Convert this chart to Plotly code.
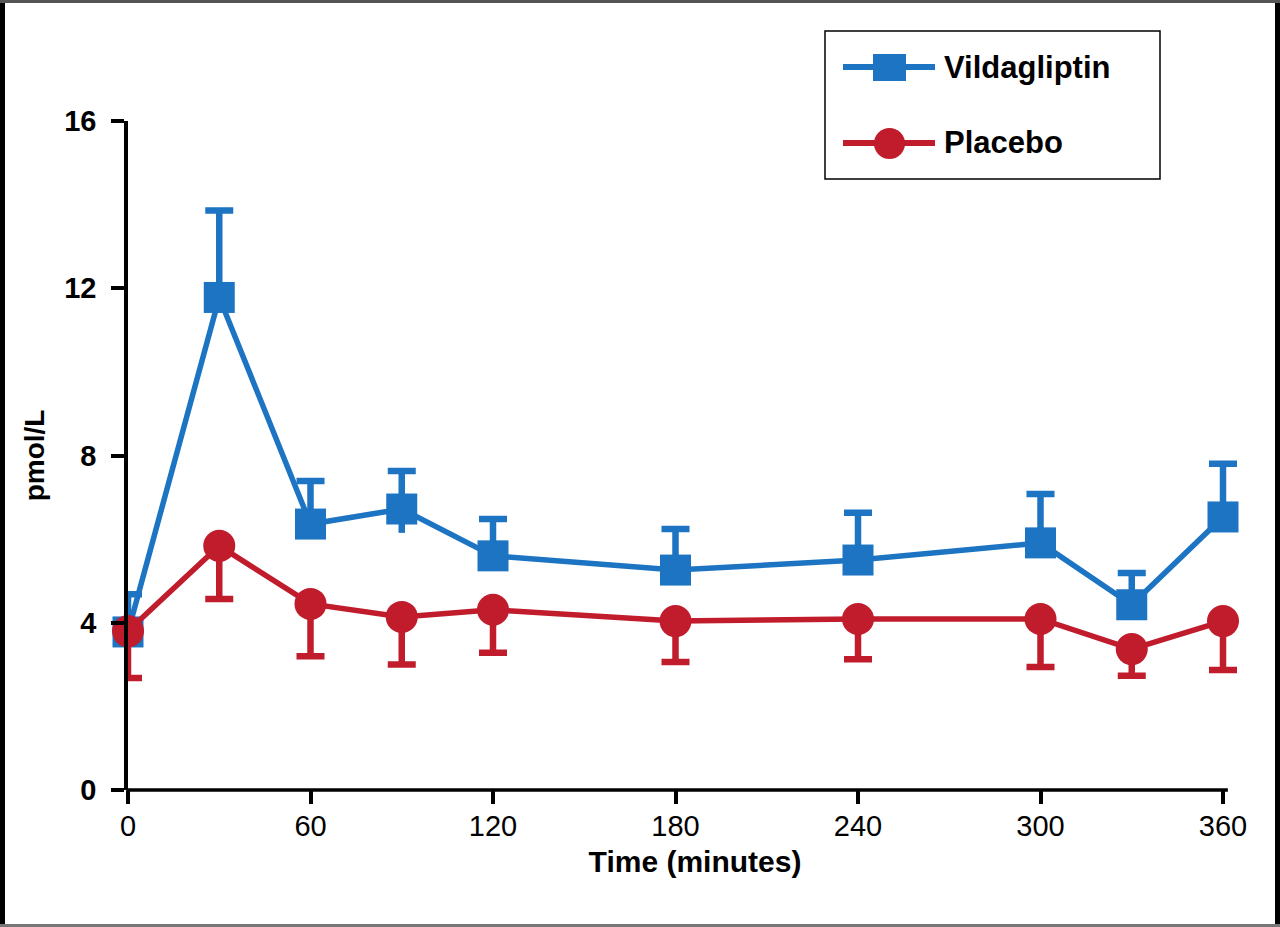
import plotly.graph_objects as go

time_min = [0, 30, 60, 90, 120, 180, 240, 300, 330, 360]
vild_mean = [3.78, 11.78, 6.36, 6.72, 5.60, 5.26, 5.50, 5.91, 4.43, 6.53]
vild_err_up = [0.90, 2.08, 1.03, 0.91, 0.88, 0.98, 1.13, 1.17, 0.76, 1.27]
placebo_mean = [3.80, 5.84, 4.45, 4.14, 4.31, 4.04, 4.09, 4.09, 3.37, 4.04]
placebo_err_down = [1.12, 1.27, 1.25, 1.14, 1.03, 0.98, 0.96, 1.15, 0.64, 1.17]
vild_stub_down = [0, 0, 0, 0.57, 0, 0, 0, 0, 0, 0]

x_ticks = [0, 60, 120, 180, 240, 300, 360]
y_ticks = [0, 4, 8, 12, 16]
x_axis_end = 361.6

BLUE = "#1C74C3"
RED = "#C01C2C"
FONT = "Liberation Sans, Arial, sans-serif"

W, H = 1280, 927
L, R, T, B = 128, 1262, 121, 790
PX_PER_MIN = 1095 / 360.0
x_range_max = (R - L) / PX_PER_MIN

def xp(px):
    return (px - L) / (R - L)

def yp(py):
    return (B - py) / (B - T)

fig = go.Figure()

fig.add_trace(go.Scatter(
    x=time_min, y=vild_mean, mode="markers",
    marker=dict(size=0.1, opacity=0),
    error_y=dict(type="data", symmetric=False, array=[0]*len(time_min),
                 arrayminus=vild_stub_down, color=BLUE, thickness=6.5, width=0),
    showlegend=False, cliponaxis=False, hoverinfo="skip",
))

fig.add_trace(go.Scatter(
    x=time_min, y=vild_mean, mode="lines+markers", name="Vildagliptin",
    line=dict(color=BLUE, width=5.5),
    marker=dict(symbol="square", size=31, color=BLUE),
    error_y=dict(type="data", symmetric=False, array=vild_err_up,
                 arrayminus=[0]*len(time_min), color=BLUE, thickness=6.5, width=14),
    showlegend=False, cliponaxis=False,
))

fig.add_trace(go.Scatter(
    x=time_min, y=placebo_mean, mode="lines+markers", name="Placebo",
    line=dict(color=RED, width=5.5),
    marker=dict(symbol="circle", size=32, color=RED),
    error_y=dict(type="data", symmetric=False, array=[0]*len(time_min),
                 arrayminus=placebo_err_down, color=RED, thickness=6.5, width=14),
    showlegend=False, cliponaxis=False,
))

shapes = []
# x axis line (ends just past the 360 tick like the reference)
shapes.append(dict(type="rect", xref="paper", yref="paper",
                   x0=xp(126.25), x1=x_axis_end / x_range_max, y0=yp(791.75), y1=yp(788.25),
                   line=dict(width=0), fillcolor="black", layer="above"))
# outer border of the figure
shapes.append(dict(type="rect", xref="paper", yref="paper",
                   x0=xp(0), x1=xp(5), y0=yp(927), y1=yp(0),
                   line=dict(width=0), fillcolor="black", layer="above"))
shapes.append(dict(type="rect", xref="paper", yref="paper",
                   x0=xp(1275), x1=xp(1280), y0=yp(927), y1=yp(0),
                   line=dict(width=0), fillcolor="black", layer="above"))
shapes.append(dict(type="rect", xref="paper", yref="paper",
                   x0=xp(0), x1=xp(1280), y0=yp(3), y1=yp(0),
                   line=dict(width=0), fillcolor="#555555", layer="above"))
shapes.append(dict(type="rect", xref="paper", yref="paper",
                   x0=xp(0), x1=xp(1280), y0=yp(927), y1=yp(924),
                   line=dict(width=0), fillcolor="#777777", layer="above"))
# custom legend box
shapes.append(dict(type="rect", xref="paper", yref="paper",
                   x0=xp(825), x1=xp(1160), y0=yp(179), y1=yp(31),
                   line=dict(color="black", width=1.5), fillcolor="white", layer="above"))
# legend row 1
shapes.append(dict(type="line", xref="paper", yref="paper",
                   x0=xp(843), x1=xp(935), y0=yp(67), y1=yp(67),
                   line=dict(color=BLUE, width=6), layer="above"))
shapes.append(dict(type="rect", xref="paper", yref="paper",
                   x0=xp(873), x1=xp(906), y0=yp(81), y1=yp(54),
                   line=dict(width=0), fillcolor=BLUE, layer="above"))
# legend row 2
shapes.append(dict(type="line", xref="paper", yref="paper",
                   x0=xp(843), x1=xp(935), y0=yp(143), y1=yp(143),
                   line=dict(color=RED, width=6), layer="above"))
shapes.append(dict(type="circle", xref="paper", yref="paper",
                   x0=xp(874), x1=xp(905), y0=yp(159), y1=yp(128),
                   line=dict(width=0), fillcolor=RED, layer="above"))

annotations = [
    dict(text="<b>Vildagliptin</b>", xref="paper", yref="paper",
         x=xp(942), y=yp(67), xanchor="left", yanchor="middle", showarrow=False,
         font=dict(family=FONT, size=31, color="black")),
    dict(text="<b>Placebo</b>", xref="paper", yref="paper",
         x=xp(942), y=yp(143), xanchor="left", yanchor="middle", showarrow=False,
         font=dict(family=FONT, size=31, color="black")),
]

fig.update_layout(
    width=W, height=H,
    margin=dict(l=L, r=W - R, t=T, b=H - B, pad=0),
    paper_bgcolor="white", plot_bgcolor="white",
    font=dict(family=FONT, color="black"),
    shapes=shapes, annotations=annotations,
    showlegend=False,
)

fig.update_xaxes(
    range=[0, x_range_max], tickvals=x_ticks, ticktext=[str(v) for v in x_ticks],
    showgrid=False, zeroline=False, showline=False,
    ticks="outside", ticklen=13, tickwidth=3.5, tickcolor="black",
    tickfont=dict(family=FONT, size=29, color="black"),
    ticklabelstandoff=-3,
    title=dict(text="<b>Time (minutes)</b>", font=dict(family=FONT, size=30, color="black"), standoff=10),
)
fig.update_yaxes(
    range=[0, 16], tickvals=y_ticks, ticktext=["<b>%d</b>" % v for v in y_ticks],
    showgrid=False, zeroline=False, showline=True, linecolor="black", linewidth=3.5,
    ticks="outside", ticklen=13, tickwidth=3.5, tickcolor="black",
    tickfont=dict(family=FONT, size=29, color="black"),
    ticklabelstandoff=9,
    title=dict(text="<b>pmol/L</b>", font=dict(family=FONT, size=28, color="black"), standoff=12),
)

fig.write_html("out.html", config={"displayModeBar": False},
               post_script="document.body.style.margin='0';document.body.style.overflow='hidden';")
